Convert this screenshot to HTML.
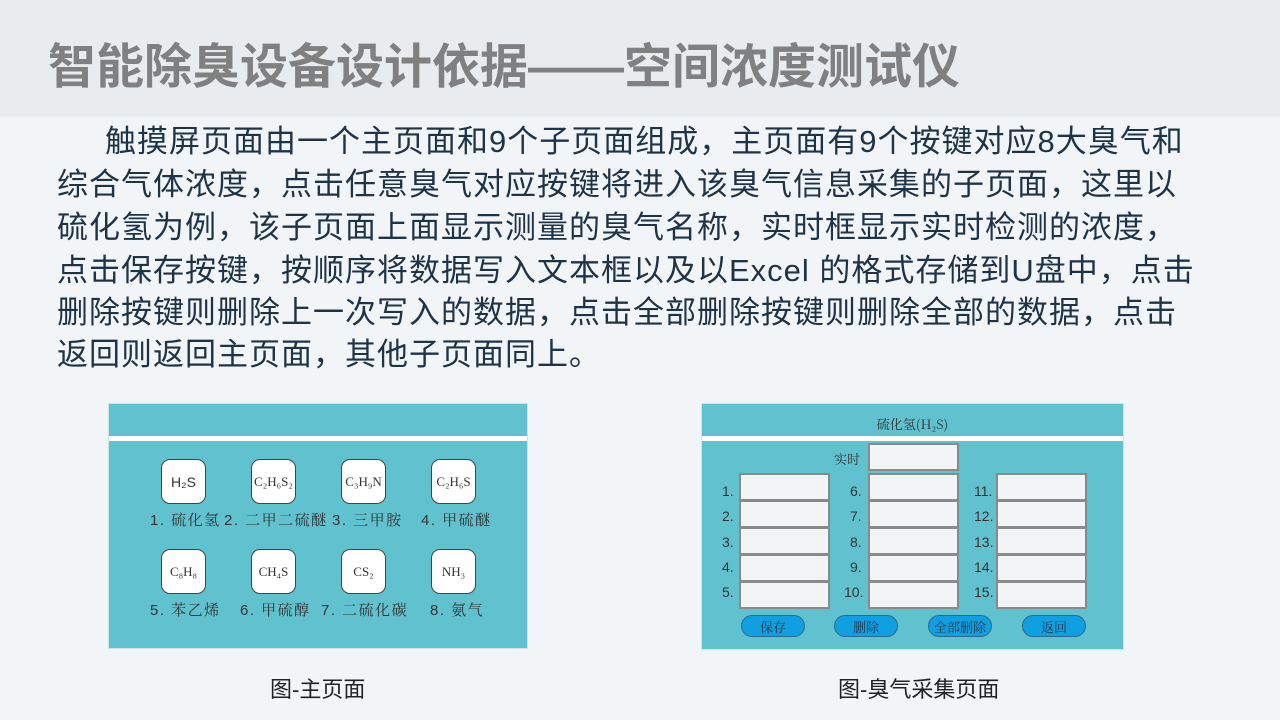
<!DOCTYPE html>
<html><head><meta charset="utf-8"><style>
*{margin:0;padding:0;box-sizing:border-box}
body{width:1280px;height:720px;background:#f2f5f7;position:relative;overflow:hidden;font-family:"Liberation Sans","Noto Sans CJK SC",sans-serif}
.hdr{position:absolute;left:0;top:0;width:1280px;height:117px;background:#e8ecef}
.title{position:absolute;left:48px;top:27px;font-size:48px;font-weight:bold;color:#808080;white-space:nowrap;letter-spacing:0px}
.ln{position:absolute;left:57px;font-size:31px;line-height:42px;color:#1f3347;white-space:nowrap;letter-spacing:1px}
.panel{position:absolute;background:#60c1cf;border:1px solid #cfe3e7}
.bar{position:absolute;left:0;right:0;top:32px;height:5px;background:#fff}
.k{position:absolute;width:45px;height:45px;background:#fff;border:1px solid #444;border-radius:9px;font-family:"Liberation Serif","Noto Serif CJK SC",serif;font-size:13px;color:#333;display:flex;align-items:center;justify-content:center}
.kl{position:absolute;font-size:15px;color:#333;white-space:nowrap;letter-spacing:1.5px;font-family:"Liberation Sans","Noto Serif CJK SC",sans-serif}
.b{position:absolute;width:91px;height:28px;background:#f2f5f6;border:2px solid #8a8a8a}
.n{position:absolute;font-size:14px;color:#333}
.btn{position:absolute;width:64px;height:22px;background:#10a0e2;border:1px solid #2a6a8a;border-radius:11px;font-size:13px;color:#234;display:flex;align-items:center;justify-content:center;font-family:"Noto Serif CJK SC",serif}
.cap{position:absolute;top:672px;font-size:22px;color:#222;white-space:nowrap}
</style></head><body>
<div class="hdr"></div>
<div class="title">智能除臭设备设计依据——空间浓度测试仪</div>
<div class="ln" style="left:105px;top:121px">触摸屏页面由一个主页面和9个子页面组成，主页面有9个按键对应8大臭气和</div>
<div class="ln" style="top:164px">综合气体浓度，点击任意臭气对应按键将进入该臭气信息采集的子页面，这里以</div>
<div class="ln" style="top:207px">硫化氢为例，该子页面上面显示测量的臭气名称，实时框显示实时检测的浓度，</div>
<div class="ln" style="top:250px">点击保存按键，按顺序将数据写入文本框以及以Excel 的格式存储到U盘中，点击</div>
<div class="ln" style="top:292px">删除按键则删除上一次写入的数据，点击全部删除按键则删除全部的数据，点击</div>
<div class="ln" style="top:334px">返回则返回主页面，其他子页面同上。</div>

<div class="panel" style="left:108px;top:403px;width:420px;height:246px">
<div class="bar"></div>
<div class="k" style="left:52px;top:55px;font-family:'Liberation Sans';font-size:14px">H₂S</div>
<div class="k" style="left:142px;top:55px">C₂H₆S₂</div>
<div class="k" style="left:232px;top:55px">C₃H₉N</div>
<div class="k" style="left:322px;top:55px">C₂H₆S</div>
<div class="k" style="left:52px;top:145px">C₈H₈</div>
<div class="k" style="left:142px;top:145px">CH₄S</div>
<div class="k" style="left:232px;top:145px">CS₂</div>
<div class="k" style="left:322px;top:145px">NH₃</div>
<div class="kl" style="left:41px;top:105px">1. 硫化氢</div>
<div class="kl" style="left:115px;top:105px">2. 二甲二硫醚</div>
<div class="kl" style="left:223px;top:105px">3. 三甲胺</div>
<div class="kl" style="left:312px;top:105px">4. 甲硫醚</div>
<div class="kl" style="left:41px;top:195px">5. 苯乙烯</div>
<div class="kl" style="left:131px;top:195px">6. 甲硫醇</div>
<div class="kl" style="left:212px;top:195px">7. 二硫化碳</div>
<div class="kl" style="left:321px;top:195px">8. 氨气</div>
</div>

<div class="panel" style="left:701px;top:403px;width:423px;height:247px">
<div style="position:absolute;left:0;right:0;top:10px;text-align:center;font-size:13px;color:#333;font-family:'Noto Serif CJK SC',serif">硫化氢(H₂S)</div>
<div class="bar"></div>
<div style="position:absolute;left:132px;top:45px;font-size:13px;color:#333;font-family:'Noto Serif CJK SC',serif">实时</div>
<div class="b" style="left:166px;top:39px;height:28px"></div>
<div class="b" style="left:37px;top:69px"></div><div class="b" style="left:37px;top:96px"></div><div class="b" style="left:37px;top:123px"></div><div class="b" style="left:37px;top:150px"></div><div class="b" style="left:37px;top:177px"></div>
<div class="b" style="left:166px;top:69px"></div><div class="b" style="left:166px;top:96px"></div><div class="b" style="left:166px;top:123px"></div><div class="b" style="left:166px;top:150px"></div><div class="b" style="left:166px;top:177px"></div>
<div class="b" style="left:294px;top:69px"></div><div class="b" style="left:294px;top:96px"></div><div class="b" style="left:294px;top:123px"></div><div class="b" style="left:294px;top:150px"></div><div class="b" style="left:294px;top:177px"></div>
<div class="n" style="left:20px;top:79px">1.</div><div class="n" style="left:20px;top:104px">2.</div><div class="n" style="left:20px;top:130px">3.</div><div class="n" style="left:20px;top:155px">4.</div><div class="n" style="left:20px;top:180px">5.</div>
<div class="n" style="left:148px;top:79px">6.</div><div class="n" style="left:148px;top:104px">7.</div><div class="n" style="left:148px;top:130px">8.</div><div class="n" style="left:148px;top:155px">9.</div><div class="n" style="left:142px;top:180px">10.</div>
<div class="n" style="left:272px;top:79px">11.</div><div class="n" style="left:272px;top:104px">12.</div><div class="n" style="left:272px;top:130px">13.</div><div class="n" style="left:272px;top:155px">14.</div><div class="n" style="left:272px;top:180px">15.</div>
<div class="btn" style="left:39px;top:211px">保存</div>
<div class="btn" style="left:132px;top:211px">删除</div>
<div class="btn" style="left:226px;top:211px">全部删除</div>
<div class="btn" style="left:320px;top:211px">返回</div>
</div>

<div class="cap" style="left:270px">图-主页面</div>
<div class="cap" style="left:838px">图-臭气采集页面</div>
</body></html>
